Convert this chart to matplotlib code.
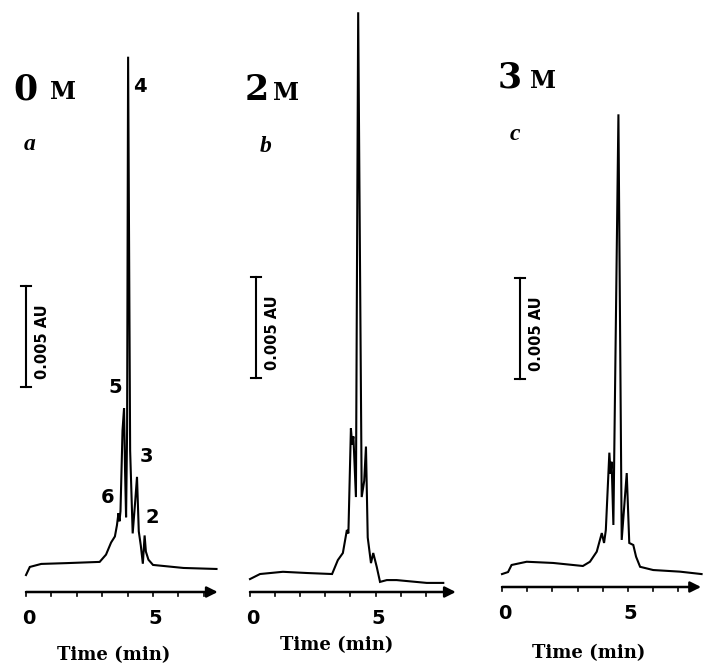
import matplotlib
matplotlib.use('Agg')
import matplotlib.pyplot as plt

# electropherograms at 0 M, 2 M and 3 M (time in min, signal in mAU above time axis)
time_a = [0.0, 0.15, 0.6, 1.6, 2.9, 3.15, 3.35, 3.5, 3.58, 3.64, 3.68, 3.72, 3.8, 3.86, 3.9, 3.94,
          3.98, 4.02, 4.1, 4.2, 4.3, 4.37, 4.44, 4.52, 4.6, 4.67, 4.72, 4.82, 5.0, 6.2, 7.5]
signal_a = [0.84, 1.24, 1.39, 1.43, 1.49, 1.85, 2.45, 2.75, 3.3, 3.9, 3.5, 4.0, 8.0, 9.1, 6.0, 3.7,
            8.0, 26.5, 7.0, 2.9, 4.5, 5.7, 3.0, 2.3, 1.4, 2.8, 2.0, 1.6, 1.34, 1.19, 1.14]

time_b = [0.0, 0.4, 1.31, 2.27, 3.27, 3.5, 3.7, 3.86, 3.92, 4.02, 4.07, 4.12, 4.22, 4.31, 4.45,
          4.55, 4.62, 4.69, 4.82, 4.91, 5.05, 5.18, 5.45, 5.84, 7.04, 7.7]
signal_b = [0.64, 0.89, 1.0, 0.94, 0.89, 1.58, 1.93, 3.07, 2.9, 8.1, 7.3, 7.7, 4.7, 28.7, 4.7,
            5.5, 7.2, 2.7, 1.43, 1.93, 1.24, 0.5, 0.59, 0.59, 0.45, 0.45]

time_c = [0.0, 0.24, 0.38, 0.98, 2.03, 3.21, 3.49, 3.76, 3.96, 4.05, 4.12, 4.26, 4.31, 4.35, 4.42,
          4.62, 4.75, 4.95, 5.05, 5.21, 5.32, 5.48, 6.0, 7.06, 7.92]
signal_c = [0.64, 0.74, 1.09, 1.25, 1.19, 1.04, 1.25, 1.75, 2.67, 2.18, 2.82, 6.65, 5.6, 6.2, 3.07,
            23.4, 2.33, 5.64, 2.18, 2.08, 1.5, 1.0, 0.84, 0.76, 0.64]

conc_labels = ['0', '2', '3']
panel_letters = ['a', 'b', 'c']
tick_minutes = [0, 1, 2, 3, 4, 5, 6, 7]
tick_labels = {0: '0', 5: '5'}
axis_end = [7.55, 8.2, 7.9]
peak_names = ['4', '5', '3', '6', '2']
peak_t = [4.49, 3.5, 4.76, 3.23, 4.96]
peak_v = [25.0, 10.1, 6.7, 4.7, 3.7]
scale_t = [0.0, 0.24, 0.71]
scale_lo = [10.15, 10.6, 10.3]
scale_au = 5.0  # 0.005 AU in mAU

W, H = 703, 665
PPV = 20.2  # pixels per mAU
# pixel position of t = 0, pixels per min, pixel row of the time axis
layout = [(26, 25.4, 592), (250, 25.1, 592), (502, 25.2, 587)]
heading_px = [(13, 50, 99), (245, 273, 100), (498, 530, 88)]
letter_px = [(30, 150), (266, 152), (515, 140)]
xlabel_dv = [-3.1, -2.65, -3.25]

fig = plt.figure(figsize=(W / 100, H / 100), dpi=100)
traces = [(time_a, signal_a), (time_b, signal_b), (time_c, signal_c)]

for i, (t, s) in enumerate(traces):
    t0, ppm, ay = layout[i]
    ax = fig.add_axes([0, 0, 1, 1])
    ax.set_xlim(-t0 / ppm, (W - t0) / ppm)
    ax.set_ylim((ay - H) / PPV, ay / PPV)
    ax.axis('off')
    ax.patch.set_alpha(0)

    ax.plot(t, s, color='black', lw=1.5, solid_joinstyle='miter')

    # time axis with arrow
    ax.annotate('', xy=(axis_end[i], 0), xytext=(0, 0),
                arrowprops=dict(arrowstyle='-|>', color='black', lw=1.8,
                                mutation_scale=16, shrinkA=0, shrinkB=0))
    for m in tick_minutes:
        ax.plot([m, m], [0, -0.18], color='black', lw=1.2)
        if m in tick_labels:
            ax.text(m + 0.1, -1.3, tick_labels[m], ha='center', va='center',
                    fontsize=14, fontweight='bold', family='DejaVu Sans')
    ax.text(3.45, xlabel_dv[i], 'Time (min)', ha='center', va='center',
            fontsize=13, fontweight='bold', family='DejaVu Serif')

    # 0.005 AU scale bar
    st, lo = scale_t[i], scale_lo[i]
    ax.plot([st, st], [lo, lo + scale_au], color='black', lw=1.5)
    for yy in (lo, lo + scale_au):
        ax.plot([st - 0.2, st + 0.2], [yy, yy], color='black', lw=1.5)
    ax.text(st + 0.65, lo + scale_au / 2 - 0.25, '0.005 AU', rotation=90,
            ha='center', va='center', fontsize=10.5, fontweight='bold',
            family='DejaVu Sans')

    if i == 0:
        for name, pt, pv in zip(peak_names, peak_t, peak_v):
            ax.text(pt, pv, name, ha='center', va='center', fontsize=14,
                    fontweight='bold', family='DejaVu Sans')

    # headings
    x0, xm, yb = heading_px[i]
    fig.text(x0 / W, 1 - yb / H, conc_labels[i], fontsize=25, fontweight='bold',
             family='DejaVu Serif', va='baseline', ha='left')
    fig.text(xm / W, 1 - yb / H, 'M', fontsize=17, fontweight='bold',
             family='DejaVu Serif', va='baseline', ha='left')
    lx, ly = letter_px[i]
    fig.text(lx / W, 1 - ly / H, panel_letters[i], fontsize=17, style='italic',
             fontweight='bold', family='Liberation Serif', va='baseline', ha='center')

fig.savefig('out.png', dpi=100)
